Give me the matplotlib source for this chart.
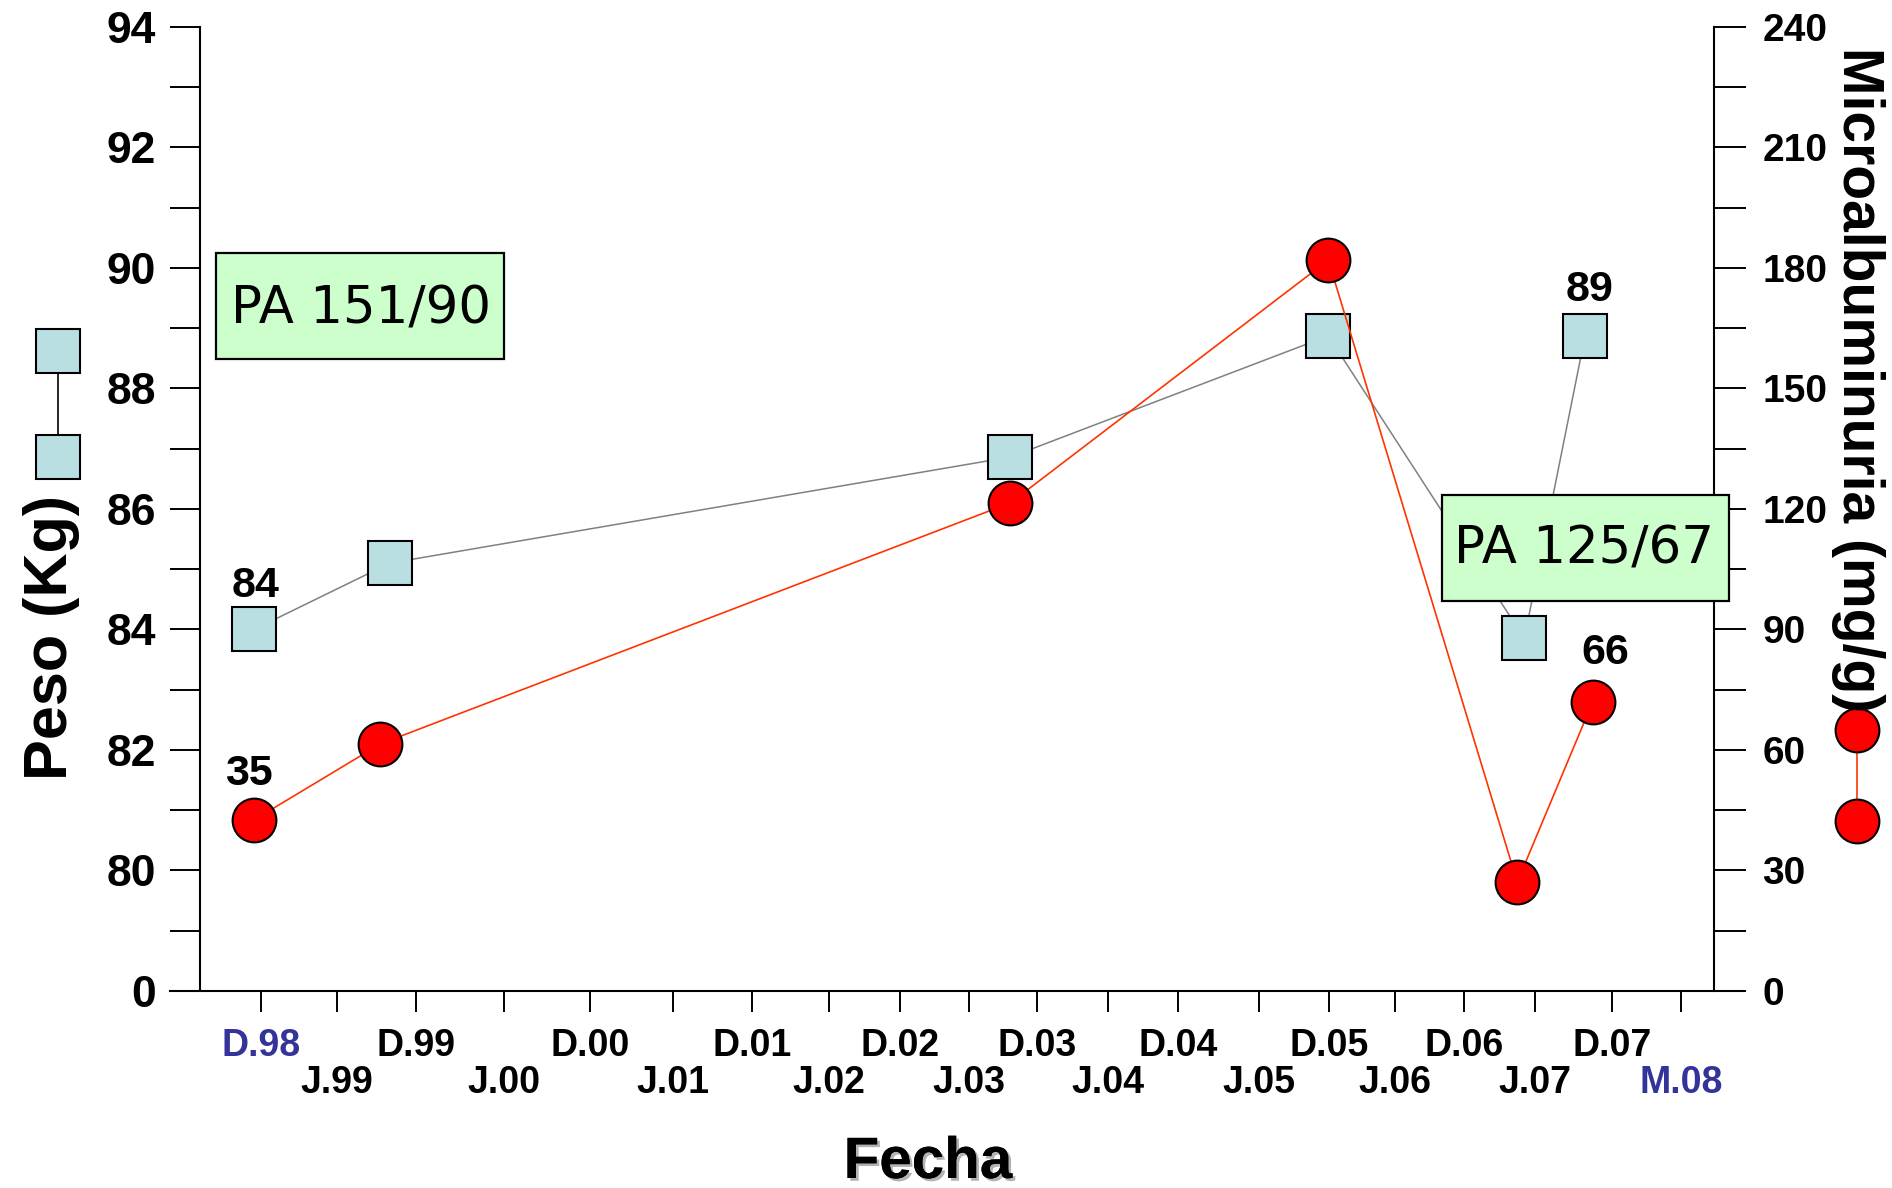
import numpy as np
import matplotlib
matplotlib.use('Agg')
import matplotlib.pyplot as plt
import matplotlib.patheffects as pe
from matplotlib.lines import Line2D
from matplotlib.patches import Rectangle

# date ticks, alternating in two rows
date_labels = ['D.98', 'J.99', 'D.99', 'J.00', 'D.00', 'J.01', 'D.01', 'J.02', 'D.02', 'J.03',
               'D.03', 'J.04', 'D.04', 'J.05', 'D.05', 'J.06', 'D.06', 'J.07', 'D.07', 'M.08']

# x in "tick units" (0 = D.98, 19 = M.08)
peso_x = [-0.09, 1.67, 9.61, 13.99, 16.85, 17.65]
peso = [84.0, 85.1, 86.86, 88.87, 83.85, 88.87]
micro_x = [-0.09, 1.55, 9.61, 13.99, 16.75, 17.75]
micro = [42.6, 61.5, 121.5, 181.9, 27.1, 72.0]

peso_ticks = [78, 80, 82, 84, 86, 88, 90, 92, 94]
peso_ticklabels = ['0', '80', '82', '84', '86', '88', '90', '92', '94']
micro_ticks = [0, 30, 60, 90, 120, 150, 180, 210, 240]

# the date axis of the original is unevenly spaced: pixel spot of every tick
xtick_px = [261, 337, 416, 504, 590, 673, 752, 829, 900, 969,
            1037, 1108, 1178, 1259, 1329, 1395, 1464, 1535, 1612, 1681]

W, H = 1892, 1188
def fx(p):
    return p / W
def fy(p):
    return 1 - p / H

idx = np.arange(len(xtick_px), dtype=float)
idx_ext = np.concatenate([[-20.0], idx, [40.0]])
px_ext = np.concatenate([[xtick_px[0] - 20 * 76], xtick_px, [xtick_px[-1] + 21 * 69]]).astype(float)

def xfwd(v):
    return np.interp(v, idx_ext, px_ext)
def xinv(p):
    return np.interp(p, px_ext, idx_ext)

plt.rcParams['font.family'] = ['Liberation Sans', 'DejaVu Sans']
plt.rcParams['font.weight'] = 'bold'

fig = plt.figure(figsize=(18.92, 11.88), dpi=100)
ax = fig.add_axes([fx(200), fy(991), (1714 - 200) / W, (991 - 26.7) / H])
ax.set_xscale('function', functions=(xfwd, xinv))
ax.set_xlim(xinv(200), xinv(1714))
ax.set_ylim(78, 94)
ax2 = ax.twinx()
ax2.set_ylim(0, 240)

for s in ['top', 'right', 'bottom']:
    ax.spines[s].set_visible(False)
for s in ['top', 'left', 'bottom']:
    ax2.spines[s].set_visible(False)
ax.spines['left'].set_linewidth(1.5)
ax2.spines['right'].set_linewidth(1.5)
fig.add_artist(Line2D([fx(170), fx(1743)], [fy(991), fy(991)], color='black', lw=1.5))

# x ticks: D row as major, J row as minor
ax.set_xticks(idx[0::2], labels=date_labels[0::2])
ax.set_xticks(idx[1::2], labels=date_labels[1::2], minor=True)
ax.tick_params(axis='x', which='both', length=15, width=1.4, labelsize=27)
ax.tick_params(axis='x', which='major', pad=12)
ax.tick_params(axis='x', which='minor', pad=38)
ax.get_xticklabels()[0].set_color('#333399')
ax.get_xticklabels(minor=True)[-1].set_color('#333399')

ax.set_yticks(peso_ticks, labels=peso_ticklabels)
ax.set_yticks(np.arange(79, 94, 2), minor=True)
ax.tick_params(axis='y', which='both', length=21.6, width=1.4, labelsize=32, pad=10)

ax2.set_yticks(micro_ticks)
ax2.set_yticks(np.arange(15, 240, 30), minor=True)
ax2.tick_params(axis='y', which='both', length=23, width=1.4, labelsize=28, pad=12)

ax.plot(peso_x, peso, color='#808080', lw=1.1, marker='s', ms=31.5,
        mfc='#badfe2', mec='black', mew=1.5, clip_on=False)
ax2.plot(micro_x, micro, color='#ff3300', lw=1.2, marker='o', ms=31.5,
         mfc='#ff0000', mec='black', mew=1.5, clip_on=False)

lab_kw = dict(textcoords='offset points', ha='center', va='center', fontsize=31, fontweight='bold')
ax.annotate('84', (peso_x[0], peso[0]), xytext=(1, 31), **lab_kw)
ax.annotate('89', (peso_x[-1], peso[-1]), xytext=(3, 33), **lab_kw)
ax2.annotate('35', (micro_x[0], micro[0]), xytext=(-4, 33), **lab_kw)
ax2.annotate('66', (micro_x[-1], micro[-1]), xytext=(9, 35), **lab_kw)

# PA boxes
for (x0, y0, x1, y1, txt, tx, ty) in [(216, 253, 504, 359, 'PA 151/90', 361, 323),
                                       (1442, 495, 1729, 601, 'PA 125/67', 1584, 564)]:
    fig.add_artist(Rectangle((fx(x0), fy(y1)), (x1 - x0) / W, (y1 - y0) / H,
                             transform=fig.transFigure, fc='#ccffcc', ec='black', lw=1.6, zorder=5))
    fig.text(fx(tx), fy(ty), txt, ha='center', va='baseline', fontsize=37,
             family='DejaVu Sans', fontweight='normal', zorder=6)

# series keys beside the axis titles
fig.add_artist(Line2D([fx(57.5), fx(57.5)], [fy(351), fy(457)], color='black', lw=1.2,
                      marker='s', ms=31.5, mfc='#badfe2', mec='black', mew=1.5))
fig.add_artist(Line2D([fx(1857), fx(1857)], [fy(730), fy(821)], color='#ff3300', lw=1.2,
                      marker='o', ms=31.5, mfc='#ff0000', mec='black', mew=1.5))

fig.text(fx(52), fy(637), 'Peso (Kg)', rotation=90, ha='center', va='center', fontsize=44)
fig.text(fx(1858), fy(380), 'Microalbuminuria (mg/g)', rotation=-90, ha='center', va='center',
         fontsize=41)
fig.text(fx(928), fy(1163), 'Fecha', ha='center', va='center', fontsize=42,
         path_effects=[pe.withSimplePatchShadow(offset=(2, -2), shadow_rgbFace='0.5', alpha=0.6),
                       pe.Normal()])

fig.savefig('out.png', dpi=100)
